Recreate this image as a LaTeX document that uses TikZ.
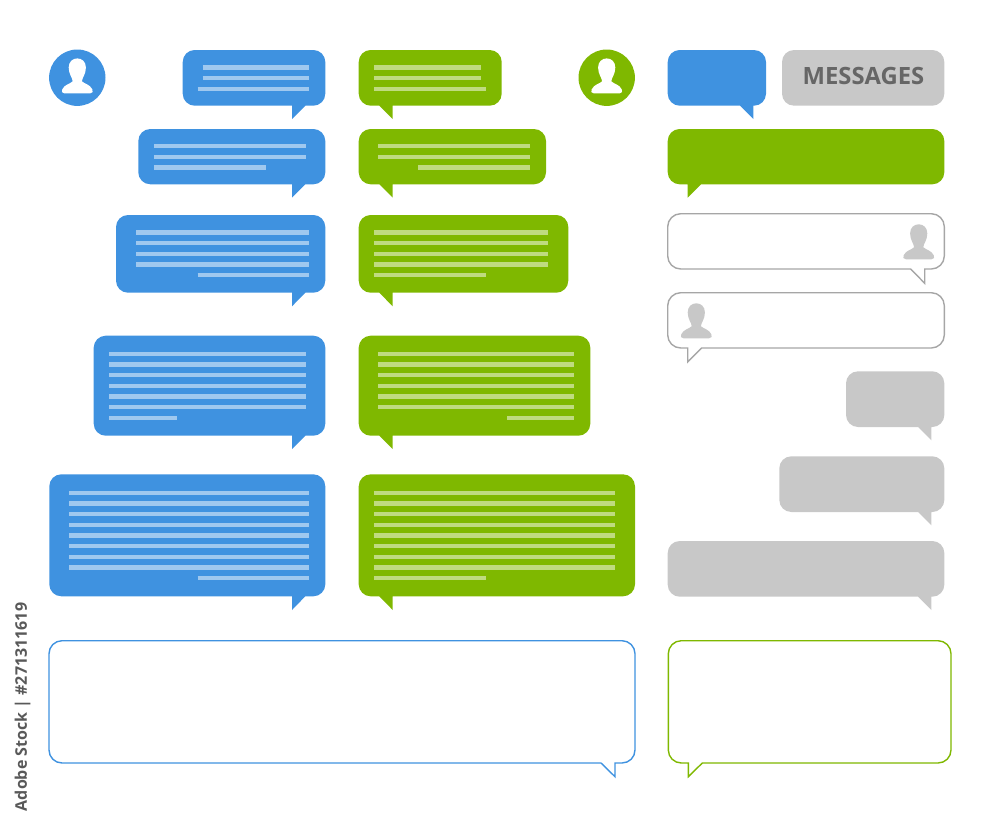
\documentclass[tikz,border=0pt]{standalone}
\usepackage{fontspec}
\setsansfont{Open Sans}
\usepackage{xcolor}
\definecolor{chatblue}{HTML}{3F92E0}
\definecolor{chatgreen}{HTML}{7FB800}
\definecolor{chatgrey}{HTML}{C8C8C8}
\tikzset{
  bluebox/.style={fill=chatblue,rounded corners=12pt},
  greenbox/.style={fill=chatgreen,rounded corners=12pt},
  greybox/.style={fill=chatgrey,rounded corners=12pt},
  lineframe/.style={line width=1.4pt,fill=white,rounded corners=13pt},
  textbar/.style={line width=4.4pt,white,opacity=.5},
  avatar/.pic={
    \path[pic actions] (-12.8,15.7) .. controls (-15.6,15.7) and (-16,13.6) .. (-15,11.6)
      .. controls (-12.6,6.6) and (-7.4,6.4) .. (-4.6,3.6)
      .. controls (-4.8,0) and (-8.6,-3.4) .. (-8.6,-10.2)
      .. controls (-8.6,-16) and (-4.6,-19.3) .. (0,-19.3)
      .. controls (4.6,-19.3) and (8.6,-16) .. (8.6,-10.2)
      .. controls (8.6,-3.4) and (4.8,0) .. (4.6,3.6)
      .. controls (7.4,6.4) and (12.6,6.6) .. (15,11.6)
      .. controls (16,13.6) and (15.6,15.7) .. (12.8,15.7) -- cycle;
  }
}
\begin{document}
\begin{tikzpicture}[x=1pt,y=-1pt]
        \useasboundingbox (0,0) rectangle (1000,827);
        %Avatars
        \fill[chatblue] (77.3,77.7) circle (28.2pt);
        \pic[fill=white] at (77.3,77.7) {avatar};
        \fill[chatgreen] (606.7,77.7) circle (28.2pt);
        \pic[fill=white] at (606.7,77.7) {avatar};
        %Blue column
        \path[bluebox] (292,105.7) -- (182.7,105.7) -- (182.7,50) -- (325.3,50) -- (325.3,105.7) [sharp corners] -- (305.3,105.7) -- (292,119) -- cycle;
        \draw[textbar] (202.7,67.3) -- (309.3,67.3) (202.7,78) -- (309.3,78) (197.7,88.7) -- (309.3,88.7);
        \path[bluebox] (292,184.3) -- (138.3,184.3) -- (138.3,129) -- (325.3,129) -- (325.3,184.3) [sharp corners] -- (305.3,184.3) -- (292,197.7) -- cycle;
        \draw[textbar] (154,146) -- (305.7,146) (154,156.7) -- (305.7,156.7) (154,167.3) -- (266,167.3);
        \path[bluebox] (292,292.7) -- (116,292.7) -- (116,215) -- (325.3,215) -- (325.3,292.7) [sharp corners] -- (305.3,292.7) -- (292,306.3) -- cycle;
        \draw[textbar] (136,232.3) -- (309.3,232.3) (136,243) -- (309.3,243) (136,253.7) -- (309.3,253.7) (136,264.3) -- (309.3,264.3) (197.7,275) -- (309.3,275);
        \path[bluebox] (292,435.7) -- (93.7,435.7) -- (93.7,335.7) -- (325.3,335.7) -- (325.3,435.7) [sharp corners] -- (305.3,435.7) -- (292,449) -- cycle;
        \draw[textbar] (109.3,353.7) -- (305.7,353.7) (109.3,364.3) -- (305.7,364.3) (109.3,375) -- (305.7,375) (109.3,385.7) -- (305.7,385.7) (109.3,396.3) -- (305.7,396.3) (109.3,407) -- (305.7,407) (109.3,417.7) -- (177,417.7);
        \path[bluebox] (292,596.3) -- (49.3,596.3) -- (49.3,474.3) -- (325.3,474.3) -- (325.3,596.3) [sharp corners] -- (305.3,596.3) -- (292,610) -- cycle;
        \draw[textbar] (69,492.7) -- (309.3,492.7) (69,503.3) -- (309.3,503.3) (69,514) -- (309.3,514) (69,524.7) -- (309.3,524.7) (69,535.3) -- (309.3,535.3) (69,546) -- (309.3,546) (69,556.7) -- (309.3,556.7) (69,567.3) -- (309.3,567.3) (197.7,578) -- (309.3,578);
        %Green column
        \path[greenbox] (379.3,105.7) -- (358.7,105.7) -- (358.7,50) -- (501.7,50) -- (501.7,105.7) [sharp corners] -- (392.7,105.7) -- (392.7,119) -- cycle;
        \draw[textbar] (374.3,67.3) -- (481.3,67.3) (374.3,78) -- (481.3,78) (374.3,88.7) -- (486.3,88.7);
        \path[greenbox] (379.3,184.3) -- (358.7,184.3) -- (358.7,129) -- (546,129) -- (546,184.3) [sharp corners] -- (392.7,184.3) -- (392.7,197.7) -- cycle;
        \draw[textbar] (378.3,146) -- (530,146) (378.3,156.7) -- (530,156.7) (418.3,167.3) -- (530,167.3);
        \path[greenbox] (379.3,292.7) -- (358.7,292.7) -- (358.7,215) -- (568.3,215) -- (568.3,292.7) [sharp corners] -- (392.7,292.7) -- (392.7,306.3) -- cycle;
        \draw[textbar] (374.3,232.3) -- (548,232.3) (374.3,243) -- (548,243) (374.3,253.7) -- (548,253.7) (374.3,264.3) -- (548,264.3) (374.3,275) -- (486.3,275);
        \path[greenbox] (379.3,435.7) -- (358.7,435.7) -- (358.7,335.7) -- (590.3,335.7) -- (590.3,435.7) [sharp corners] -- (392.7,435.7) -- (392.7,449) -- cycle;
        \draw[textbar] (378.3,353.7) -- (574.3,353.7) (378.3,364.3) -- (574.3,364.3) (378.3,375) -- (574.3,375) (378.3,385.7) -- (574.3,385.7) (378.3,396.3) -- (574.3,396.3) (378.3,407) -- (574.3,407) (507,417.7) -- (574.3,417.7);
        \path[greenbox] (379.3,596.3) -- (358.7,596.3) -- (358.7,474.3) -- (635,474.3) -- (635,596.3) [sharp corners] -- (392.7,596.3) -- (392.7,610) -- cycle;
        \draw[textbar] (374.3,492.7) -- (615,492.7) (374.3,503.3) -- (615,503.3) (374.3,514) -- (615,514) (374.3,524.7) -- (615,524.7) (374.3,535.3) -- (615,535.3) (374.3,546) -- (615,546) (374.3,556.7) -- (615,556.7) (374.3,567.3) -- (615,567.3) (374.3,578) -- (486.3,578);
        %Right column
        \path[bluebox] (740,105.7) -- (667.7,105.7) -- (667.7,50) -- (766,50) -- (766,105.7) [sharp corners] -- (753.3,105.7) -- (753.3,119) -- cycle;
        \path[greybox] (782,50) rectangle (944.3,105.7);
        \node[text=black!60,font=\sffamily\bfseries\fontsize{23.8}{24}\selectfont,inner sep=0pt] (messages) at (863.5,75.7) {MESSAGES};
        \path[greenbox] (701,184.3) -- (944.3,184.3) -- (944.3,129) -- (667.7,129) -- (667.7,184.3) [sharp corners] -- (687.7,184.3) -- (687.7,197.7) -- cycle;
        \draw[lineframe,draw=black!35] (910.7,269) -- (667.7,269) -- (667.7,213.7) -- (944.3,213.7) -- (944.3,269) [sharp corners] -- (924.7,269) -- (924.7,283.3) -- cycle;
        \pic[fill=chatgrey] at (918.7,243.6) {avatar};
        \draw[lineframe,draw=black!35] (701.7,348) -- (944.3,348) -- (944.3,292.7) -- (667.7,292.7) -- (667.7,348) [sharp corners] -- (687.7,348) -- (687.7,362) -- cycle;
        \pic[fill=chatgrey] at (696.3,322.6) {avatar};
        \path[greybox] (918,427) -- (846,427) -- (846,371.3) -- (944.3,371.3) -- (944.3,427) [sharp corners] -- (931.3,427) -- (931.3,440.3) -- cycle;
        \path[greybox] (918,512) -- (779.3,512) -- (779.3,456.3) -- (944.3,456.3) -- (944.3,512) [sharp corners] -- (931.3,512) -- (931.3,525.3) -- cycle;
        \path[greybox] (918,596.7) -- (667.7,596.7) -- (667.7,541) -- (944.3,541) -- (944.3,596.7) [sharp corners] -- (931.3,596.7) -- (931.3,610) -- cycle;
        %Empty outlines
        \draw[lineframe,draw=chatblue] (601,763) -- (49,763) -- (49,640.7) -- (635,640.7) -- (635,763) [sharp corners] -- (615,763) -- (615,776.7) -- cycle;
        \draw[lineframe,draw=chatgreen] (702.3,763) -- (951,763) -- (951,640.7) -- (668.3,640.7) -- (668.3,763) [sharp corners] -- (688.3,763) -- (688.3,776.7) -- cycle;
        %Side label
        \node[rotate=90,text=black!65,font=\sffamily\bfseries\fontsize{16}{18}\selectfont,inner sep=0pt] (stocklabel) at (22.5,707) {Adobe Stock | \#271311619};
\end{tikzpicture}
\end{document}
